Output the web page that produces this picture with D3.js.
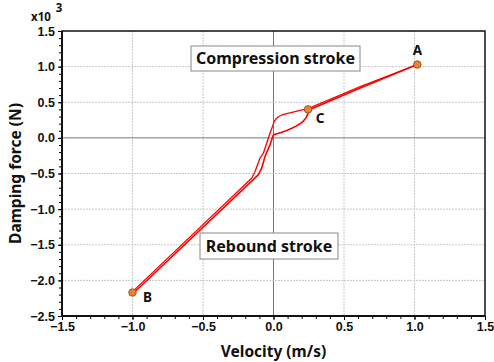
<!DOCTYPE html>
<html>
<head>
<meta charset="utf-8">
<script src="https://cdn.jsdelivr.net/npm/d3@7"></script>
<style>
    body { margin: 0; background: #fff; }
    svg { display: block; font-family: "Noto Sans", "Open Sans", sans-serif; }
</style>
</head>
<body>
<svg id="chart"></svg>
<script>
// data (force in kN, i.e. x10^3 N)
const upperBranch = [
    [-1.0, -2.17], [-0.99, -2.14], [-0.155, -0.566], [-0.131, -0.473], [-0.096, -0.285],
    [-0.072, -0.215], [-0.025, 0.066], [-0.005, 0.17], [0.0, 0.205], [0.008, 0.24],
    [0.02, 0.272], [0.035, 0.297], [0.055, 0.318], [0.094, 0.342], [0.254, 0.418],
    [0.62, 0.722], [1.02, 1.03]
];
const lowerBranch = [
    [-1.0, -2.17], [-0.97, -2.135], [-0.108, -0.519], [-0.084, -0.426], [-0.060, -0.262],
    [-0.025, -0.098], [-0.001, 0.042], [0.03, 0.06], [0.06, 0.08], [0.094, 0.104],
    [0.13, 0.135], [0.16, 0.165], [0.188, 0.198], [0.21, 0.232], [0.23, 0.28],
    [0.245, 0.34], [0.254, 0.395], [0.62, 0.703], [1.02, 1.03]
];
const markers = [
    { name: "A", v: 1.02, f: 1.03 },
    { name: "B", v: -1.0, f: -2.17 },
    { name: "C", v: 0.245, f: 0.40 }
];
const xTicks = [-1.5, -1.0, -0.5, 0.0, 0.5, 1.0, 1.5];
const yTicks = [1.5, 1.0, 0.5, 0.0, -0.5, -1.0, -1.5, -2.0, -2.5];

const width = 494, height = 362;
const margin = { left: 62, right: 9, top: 31, bottom: 46 };

const svg = d3.select("#chart").attr("width", width).attr("height", height);

const x = d3.scaleLinear().domain([-1.5, 1.5]).range([margin.left, width - margin.right]);
const y = d3.scaleLinear().domain([-2.5, 1.5]).range([height - margin.bottom, margin.top]);

// grid
const grid = svg.append("g");
grid.selectAll(".gx").data(xTicks.slice(1, -1)).join("line")
    .attr("x1", d => x(d)).attr("x2", d => x(d))
    .attr("y1", y(1.5)).attr("y2", y(-2.5))
    .attr("stroke", d => d === 0 ? "#777" : "#c8c8c8")
    .attr("stroke-width", 1)
    .attr("stroke-dasharray", d => d === 0 ? null : "2,1");
grid.selectAll(".gy").data(yTicks.slice(1, -1)).join("line")
    .attr("y1", d => y(d)).attr("y2", d => y(d))
    .attr("x1", x(-1.5)).attr("x2", x(1.5))
    .attr("stroke", d => d === 0 ? "#777" : "#c8c8c8")
    .attr("stroke-width", 1)
    .attr("stroke-dasharray", d => d === 0 ? null : "2,1");

// axes with minor ticks
const minorX = d3.range(-15, 16).map(d => d / 10);
const minorY = d3.range(-25, 16).map(d => d / 10);

svg.append("g")
    .attr("transform", `translate(0,${y(-2.5)})`)
    .call(d3.axisBottom(x).tickValues(minorX).tickSize(3).tickFormat(""))
    .call(g => g.select(".domain").remove());
svg.append("g")
    .attr("transform", `translate(${x(-1.5)},0)`)
    .call(d3.axisLeft(y).tickValues(minorY).tickSize(3).tickFormat(""))
    .call(g => g.select(".domain").remove());

const xAxis = svg.append("g")
    .attr("transform", `translate(0,${y(-2.5)})`)
    .call(d3.axisBottom(x).tickValues(xTicks).tickSize(4).tickPadding(2).tickFormat(d3.format(".1f")));
xAxis.select(".domain").remove();
xAxis.selectAll("text").attr("font-size", 12.5).attr("font-weight", "bold").attr("fill", "#111");

const yAxis = svg.append("g")
    .attr("transform", `translate(${x(-1.5)},0)`)
    .call(d3.axisLeft(y).tickValues(yTicks).tickSize(4).tickPadding(3).tickFormat(d3.format(".1f")));
yAxis.select(".domain").remove();
yAxis.selectAll("text").attr("font-size", 12.5).attr("font-weight", "bold").attr("fill", "#111");

// frame
svg.append("rect")
    .attr("x", x(-1.5)).attr("y", y(1.5))
    .attr("width", x(1.5) - x(-1.5)).attr("height", y(-2.5) - y(1.5))
    .attr("fill", "none").attr("stroke", "#111").attr("stroke-width", 1.5);
svg.append("line")
    .attr("x1", x(-1.5)).attr("x2", x(1.5)).attr("y1", y(-2.5)).attr("y2", y(-2.5))
    .attr("stroke", "#111").attr("stroke-width", 2);
svg.append("line")
    .attr("x1", x(-1.5)).attr("x2", x(-1.5)).attr("y1", y(1.5)).attr("y2", y(-2.5))
    .attr("stroke", "#111").attr("stroke-width", 2);

// x10^3 multiplier
const mult = svg.append("text").attr("x", 31).attr("y", 21)
    .attr("font-size", 11.5).attr("font-weight", "bold").attr("fill", "#111");
mult.append("tspan").text("x10");
mult.append("tspan").attr("dx", 5).attr("dy", -9).text("3");

// axis titles
svg.append("text")
    .attr("x", x(0)).attr("y", 357)
    .attr("text-anchor", "middle")
    .attr("font-size", 15.5).attr("font-weight", "bold").attr("fill", "#111")
    .text("Velocity (m/s)");
svg.append("text")
    .attr("transform", `translate(21,${(y(1.5) + y(-2.5)) / 2}) rotate(-90)`)
    .attr("text-anchor", "middle")
    .attr("font-size", 15.5).attr("font-weight", "bold").attr("fill", "#111")
    .text("Damping force (N)");

// annotation boxes
function noteBox(cx, cy, w, h, label) {
    svg.append("rect")
        .attr("x", cx - w / 2).attr("y", cy - h / 2)
        .attr("width", w).attr("height", h)
        .attr("fill", "#fff").attr("stroke", "#888").attr("stroke-width", 1);
    svg.append("text")
        .attr("x", cx).attr("y", cy + 5.5)
        .attr("text-anchor", "middle")
        .attr("font-size", 16).attr("font-weight", "bold").attr("fill", "#111")
        .text(label);
}
noteBox(275.5, 58.5, 169, 25, "Compression stroke");
noteBox(269, 246, 138, 26, "Rebound stroke");

// hysteresis loop
const line = d3.line().x(d => x(d[0])).y(d => y(d[1]));
svg.append("path").datum(upperBranch).attr("d", line)
    .attr("fill", "none").attr("stroke", "#f00").attr("stroke-width", 1.3)
    .attr("stroke-linejoin", "round");
svg.append("path").datum(lowerBranch).attr("d", line)
    .attr("fill", "none").attr("stroke", "#f00").attr("stroke-width", 1.6)
    .attr("stroke-linejoin", "round");

// markers
svg.selectAll(".pt").data(markers).join("circle")
    .attr("cx", d => x(d.v)).attr("cy", d => y(d.f)).attr("r", 3.8)
    .attr("fill", "#e8822e").attr("stroke", "#8a4a1a").attr("stroke-width", 0.8);

const labelOffset = { A: [0, -9], B: [15, 10], C: [12, 14] };
svg.selectAll(".lbl").data(markers).join("text")
    .attr("x", d => x(d.v) + labelOffset[d.name][0])
    .attr("y", d => y(d.f) + labelOffset[d.name][1])
    .attr("text-anchor", "middle")
    .attr("font-size", 13.5).attr("font-weight", "bold").attr("fill", "#111")
    .text(d => d.name);
</script>
</body>
</html>
